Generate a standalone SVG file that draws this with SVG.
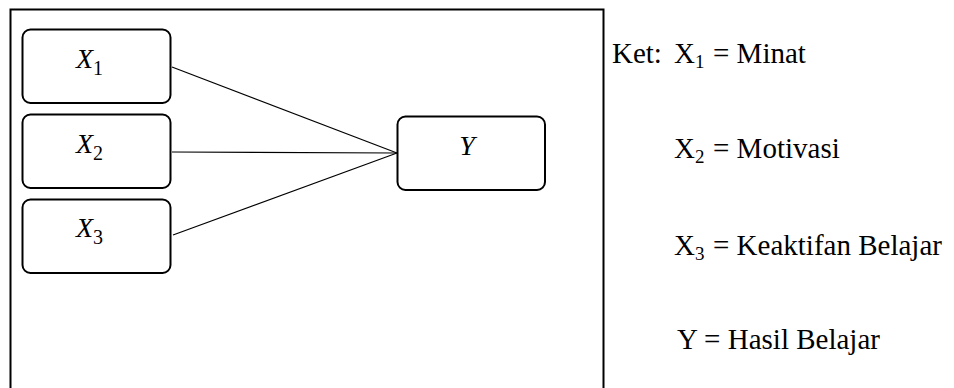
<svg xmlns="http://www.w3.org/2000/svg" width="954" height="388" viewBox="0 0 954 388">
<style>
.frame{fill:none;stroke:#000;stroke-width:2}
.box{fill:#fff;stroke:#000;stroke-width:2}
.edge{stroke:#000;stroke-width:1.2;fill:none}
.var{font-family:"Liberation Serif","DejaVu Serif",serif;font-style:italic;font-size:28px;fill:#000}
.sub{font-style:normal;font-size:20px}
.leg{font-family:"Liberation Serif","Times New Roman",serif;font-size:29px;fill:#000}
.lsub{font-size:19px}
</style>
<rect width="954" height="388" fill="#fff"/>
<path class="frame" d="M10.5,400 V9.5 H603.5 V400"/>
<g id="connectors">
<line class="edge" x1="172" y1="67" x2="397" y2="153"/>
<line class="edge" x1="172" y1="152" x2="397" y2="153"/>
<line class="edge" x1="173" y1="235" x2="397" y2="153"/>
</g>
<g id="node-x1">
<rect class="box" x="22.5" y="29.5" width="148" height="73.5" rx="8"/>
<text class="var" x="76" y="68">X<tspan class="sub" dy="7">1</tspan></text>
</g>
<g id="node-x2">
<rect class="box" x="22.5" y="114.5" width="148" height="73.5" rx="8"/>
<text class="var" x="76" y="153">X<tspan class="sub" dy="7">2</tspan></text>
</g>
<g id="node-x3">
<rect class="box" x="22.5" y="199.5" width="148" height="73.5" rx="8"/>
<text class="var" x="76" y="237">X<tspan class="sub" dy="7">3</tspan></text>
</g>
<g id="node-y">
<rect class="box" x="397.5" y="116.5" width="147.5" height="73.5" rx="8"/>
<text class="var" x="467" y="155" text-anchor="middle">Y</text>
</g>
<g id="legend">
<text class="leg" x="612" y="63">Ket:</text>
<text class="leg" x="674" y="63">X<tspan class="lsub" dy="5">1</tspan><tspan x="713" dy="-5">= Minat</tspan></text>
<text class="leg" x="674" y="158">X<tspan class="lsub" dy="5">2</tspan><tspan x="713" dy="-5">= Motivasi</tspan></text>
<text class="leg" x="674" y="255">X<tspan class="lsub" dy="5">3</tspan><tspan x="713" dy="-5">= Keaktifan Belajar</tspan></text>
<text class="leg" x="677" y="349">Y = Hasil Belajar</text>
</g>
</svg>
